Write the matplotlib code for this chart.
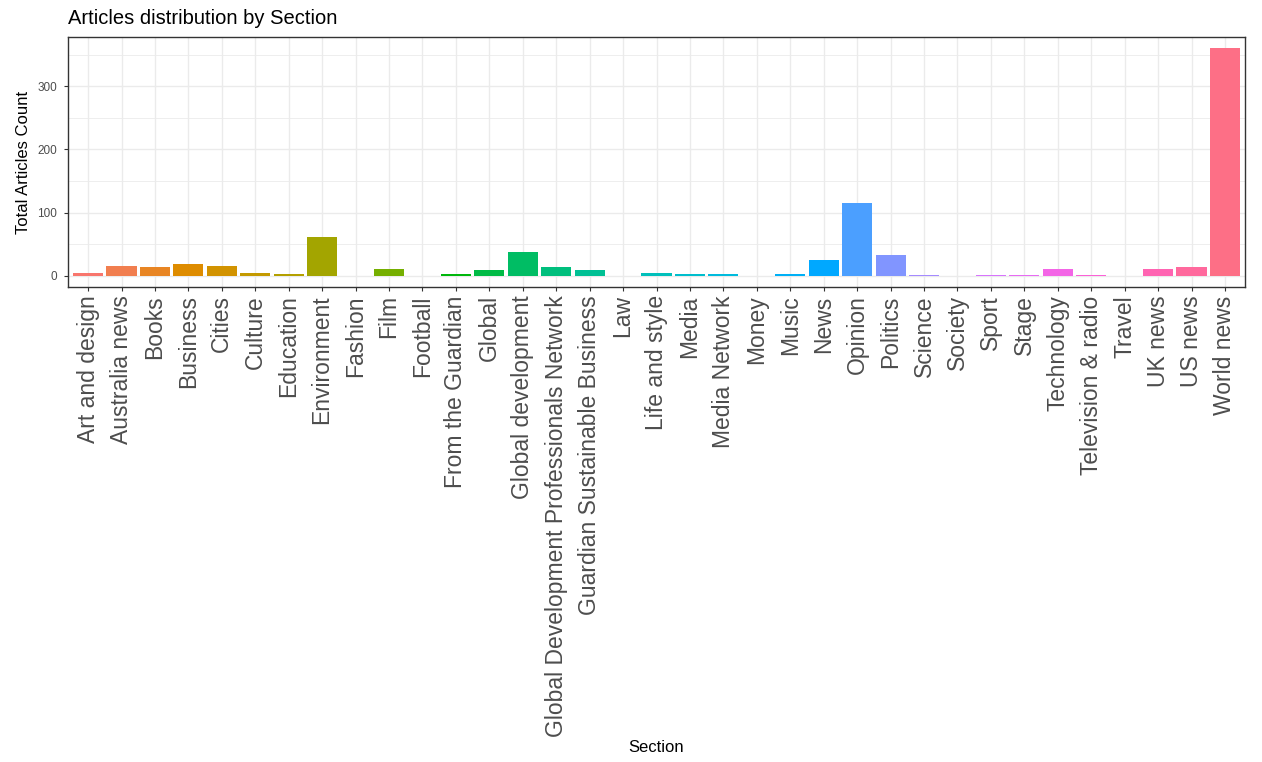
import numpy as np
import matplotlib.pyplot as plt
from matplotlib.ticker import MultipleLocator

plt.rcParams['font.family'] = ['Liberation Sans', 'DejaVu Sans']

sections = ['Art and design', 'Australia news', 'Books', 'Business', 'Cities',
            'Culture', 'Education', 'Environment', 'Fashion', 'Film', 'Football',
            'From the Guardian', 'Global', 'Global development',
            'Global Development Professionals Network',
            'Guardian Sustainable Business', 'Law', 'Life and style', 'Media',
            'Media Network', 'Money', 'Music', 'News', 'Opinion', 'Politics',
            'Science', 'Society', 'Sport', 'Stage', 'Technology',
            'Television & radio', 'Travel', 'UK news', 'US news', 'World news']
counts = [4, 16, 13, 18, 16,
          4, 2, 62, 0, 11, 0,
          2, 9, 38,
          13,
          9, 0, 4, 2,
          2, 0, 2, 24, 115, 33,
          1, 0, 1, 1, 11,
          1, 0, 11, 13, 361]


def hue_pal(n, c=100.0, l=65.0):
    # ggplot2 default discrete palette (hcl hues from 15 to 375)
    hues = np.linspace(15, 375, n + 1)[:-1]
    xn, yn, zn = 95.047, 100.0, 108.883
    un = 4 * xn / (xn + 15 * yn + 3 * zn)
    vn = 9 * yn / (xn + 15 * yn + 3 * zn)
    m = np.array([[3.240479, -1.537150, -0.498535],
                  [-0.969256, 1.875992, 0.041556],
                  [0.055648, -0.204043, 1.057311]])
    cols = []
    for h in hues:
        u = c * np.cos(np.radians(h))
        v = c * np.sin(np.radians(h))
        y = yn * ((l + 16) / 116) ** 3
        up = u / (13 * l) + un
        vp = v / (13 * l) + vn
        x = 9.0 * y * up / (4 * vp)
        z = -x / 3 - 5 * y + 3 * y / vp
        rgb = m @ np.array([x, y, z]) / 100
        rgb = np.where(rgb > 0.0031308,
                       1.055 * np.abs(rgb) ** (1 / 2.4) - 0.055, 12.92 * rgb)
        cols.append(tuple(np.clip(rgb, 0, 1)))
    return cols


W, H = 1262, 762
fig = plt.figure(figsize=(W / 100, H / 100), dpi=100)
left, right, top, bottom = 68, 1245, 36.5, 287
ax = fig.add_axes([left / W, 1 - bottom / H, (right - left) / W, (bottom - top) / H])

ind = np.arange(1, len(sections) + 1)
ax.bar(ind, counts, 0.9, color=hue_pal(len(sections)), zorder=3)

ymax = max(counts)
ax.set_xlim(0.4, len(sections) + 0.6)
ax.set_ylim(-0.05 * ymax, 1.05 * ymax)

ax.set_xticks(ind)
ax.set_xticklabels(sections, rotation=90, fontsize=16.5, color='#4D4D4D')
ax.yaxis.set_major_locator(MultipleLocator(100))
ax.yaxis.set_minor_locator(MultipleLocator(50))
ax.tick_params(axis='y', which='major', labelsize=8.5, labelcolor='#4D4D4D',
               color='#333333', length=3, width=0.8, pad=5)
ax.tick_params(axis='y', which='minor', length=0)
ax.tick_params(axis='x', color='#333333', length=3, width=0.8, pad=3)

ax.grid(True, which='major', color='#EBEBEB', linewidth=1.0, zorder=0)
ax.grid(True, which='minor', axis='y', color='#EBEBEB', linewidth=0.6, zorder=0)
ax.set_axisbelow(True)
for s in ax.spines.values():
    s.set_color('#333333')
    s.set_linewidth(1.0)

fig.text(left / W, 1 - 24 / H, 'Articles distribution by Section', fontsize=14.5,
         ha='left', va='baseline')
fig.text(24 / W, 1 - 162 / H, 'Total Articles Count', fontsize=12, rotation=90,
         ha='center', va='center')
fig.text(656 / W, 1 - 747 / H, 'Section', fontsize=12, ha='center', va='center')

fig.savefig('out.png', dpi=100, facecolor='white')
